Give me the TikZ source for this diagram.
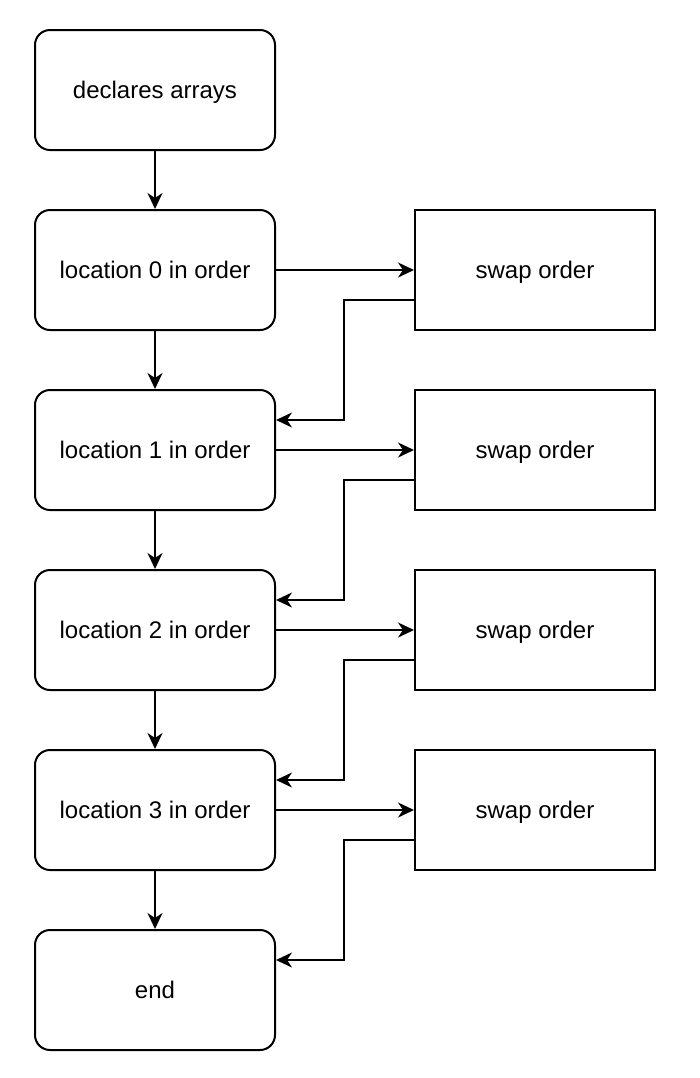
\documentclass[tikz,border=0pt]{standalone}
\usepackage{fontspec}
\setmainfont{Liberation Sans}
\usetikzlibrary{arrows.meta}

\begin{document}
\begin{tikzpicture}[x=0.5pt,y=-0.5pt,line width=1pt,>={Stealth[length=8pt,width=7.5pt,inset=2.5pt]}]
\useasboundingbox (0,0) rectangle (700,1078);
\begin{scope}[every node/.style={draw,line width=1pt,minimum width=120pt,minimum height=60pt,inner sep=0pt,text height=10pt,text depth=2pt,font=\fontsize{12}{14}\selectfont}]
    \node[rounded corners=7.5pt] (1) at (155,90) {declares arrays};
    \node[rounded corners=7.5pt] (2) at (155,270) {location 0 in order};
    \node[rounded corners=7.5pt] (3) at (155,450) {location 1 in order};
    \node[rounded corners=7.5pt] (4) at (155,630) {location 2 in order};
    \node[rounded corners=7.5pt] (5) at (155,810) {location 3 in order};
    \node[rounded corners=7.5pt] (6) at (155,990) {end};
    \node (7) at (535,270) {swap order};
    \node (8) at (535,450) {swap order};
    \node (9) at (535,630) {swap order};
    \node (10) at (535,810) {swap order};
\end{scope}

\draw[->] (1) -- (2);
\draw[->] (2) -- (3);
\draw[->] (3) -- (4);
\draw[->] (4) -- (5);
\draw[->] (5) -- (6);
\draw[->] (2) -- (7);
\draw[->] (3) -- (8);
\draw[->] (4) -- (9);
\draw[->] (5) -- (10);
\draw[->] ([yshift=-15pt]7.west) -- ++(-35pt,0) |- ([yshift=15pt]3.east);
\draw[->] ([yshift=-15pt]8.west) -- ++(-35pt,0) |- ([yshift=15pt]4.east);
\draw[->] ([yshift=-15pt]9.west) -- ++(-35pt,0) |- ([yshift=15pt]5.east);
\draw[->] ([yshift=-15pt]10.west) -- ++(-35pt,0) |- ([yshift=15pt]6.east);
\end{tikzpicture}
\end{document}
